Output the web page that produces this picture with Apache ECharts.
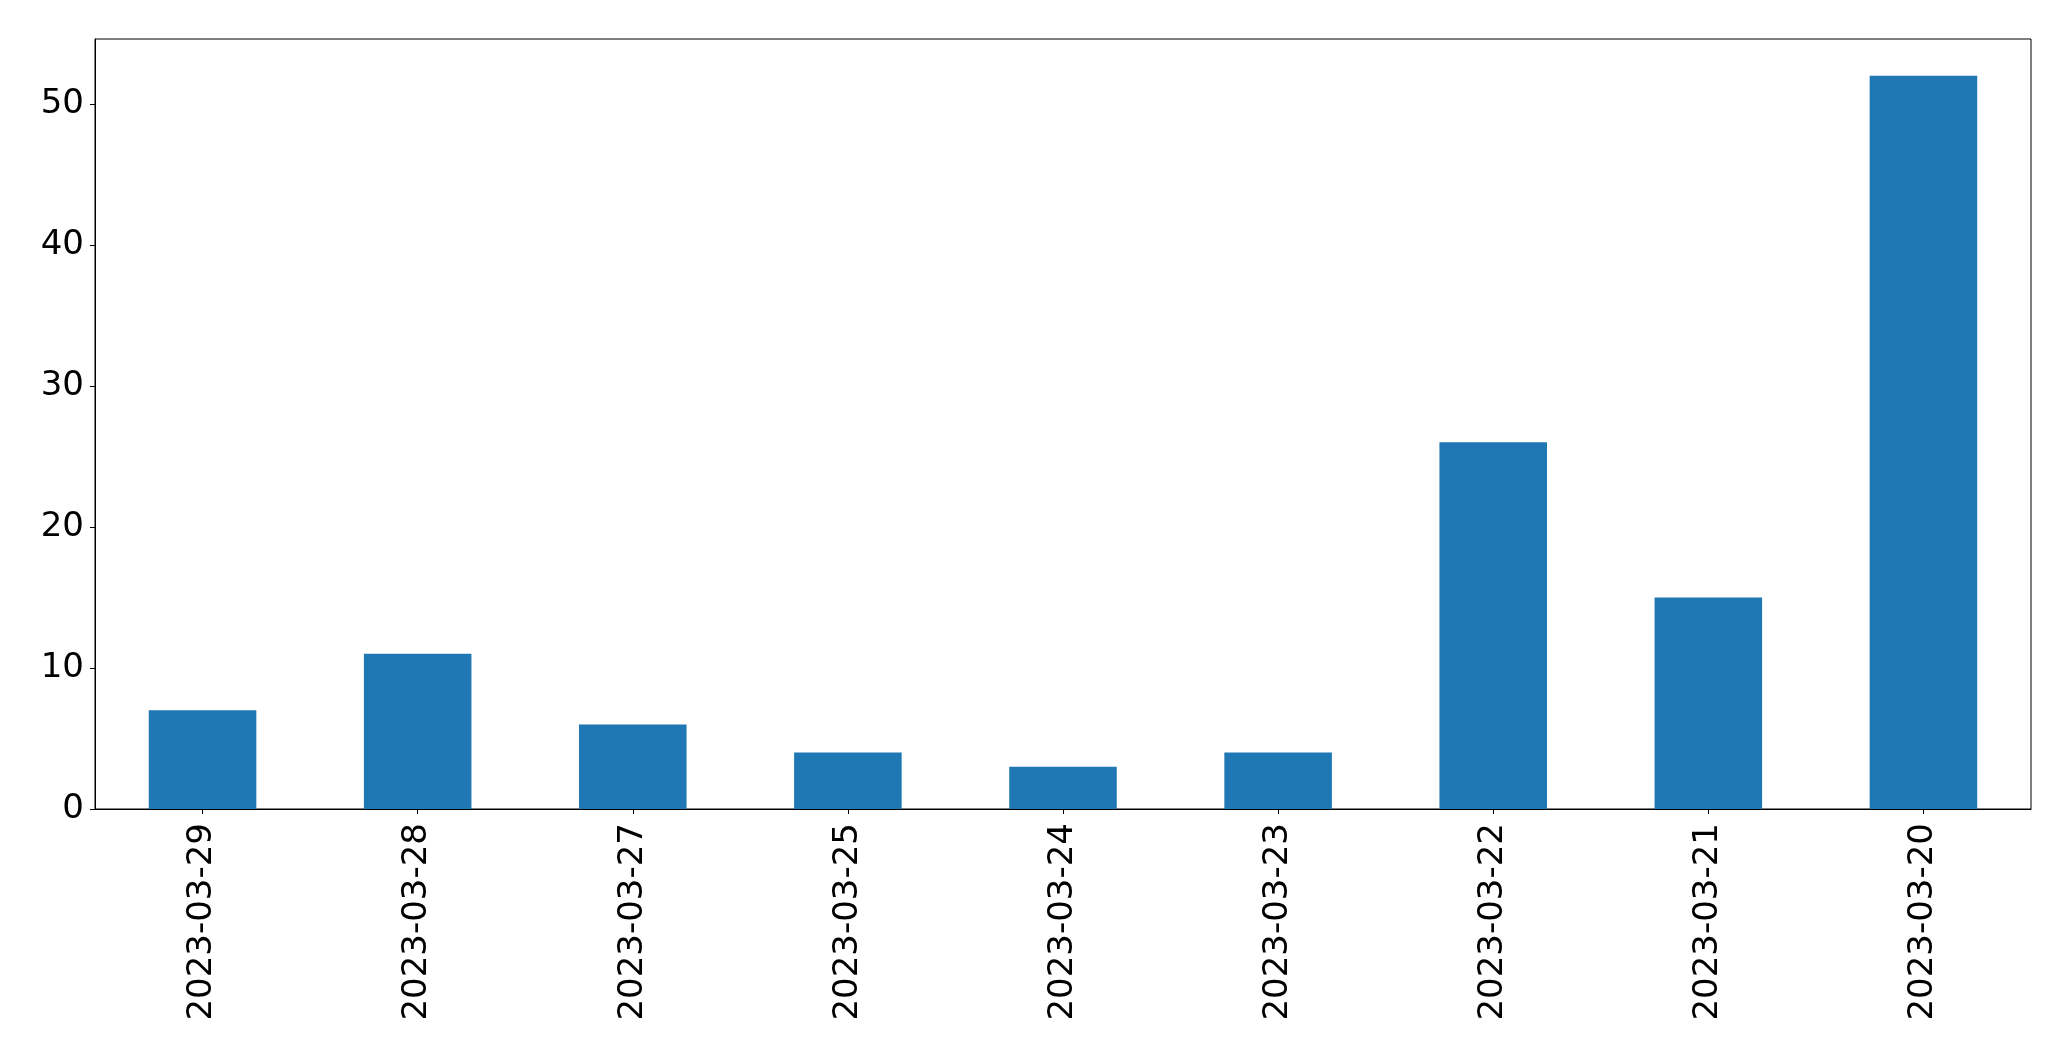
<!DOCTYPE html>
<html>
<head>
<meta charset="utf-8">
<script src="https://cdn.jsdelivr.net/npm/echarts@6/dist/echarts.min.js"></script>
<style>html,body{margin:0;padding:0;background:#fff;}#chart{width:2071px;height:1061px;}</style>
</head>
<body>
<div id="chart"></div>
<script>
const categories = ['2023-03-29','2023-03-28','2023-03-27','2023-03-25','2023-03-24','2023-03-23','2023-03-22','2023-03-21','2023-03-20'];
const values = [7, 11, 6, 4, 3, 4, 26, 15, 52];
const yTicks = [0, 10, 20, 30, 40, 50];

const chart = echarts.init(document.getElementById('chart'), null, {renderer: 'canvas'});
const font = 'DejaVu Sans';
chart.setOption({
  animation: false,
  backgroundColor: '#ffffff',
  grid: {left: 95, right: 40, top: 39, bottom: 252, show: true, borderColor: '#000', borderWidth: 1, backgroundColor: 'transparent'},
  xAxis: {
    type: 'category',
    data: categories,
    boundaryGap: true,
    axisLine: {show: true, lineStyle: {color: '#000', width: 1}},
    axisTick: {show: true, alignWithLabel: true, length: 5, lineStyle: {color: '#000', width: 1}},
    axisLabel: {rotate: 90, margin: 14, color: '#000', fontFamily: font, fontSize: 34}
  },
  yAxis: {
    type: 'value',
    min: 0,
    max: 54.6,
    interval: 10,
    splitLine: {show: false},
    axisLine: {show: true, lineStyle: {color: '#000', width: 1}},
    axisTick: {show: true, length: 5, customValues: yTicks, lineStyle: {color: '#000', width: 1}},
    axisLabel: {margin: 11, color: '#000', fontFamily: font, fontSize: 34, customValues: yTicks}
  },
  series: [{
    type: 'bar',
    data: values,
    barWidth: '50%',
    itemStyle: {color: '#1f77b4'}
  }]
});
</script>
</body>
</html>
